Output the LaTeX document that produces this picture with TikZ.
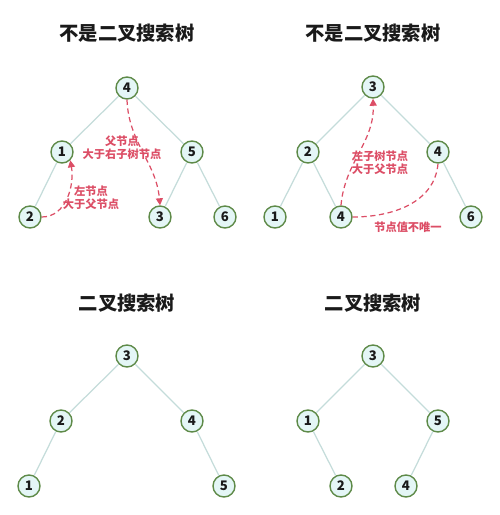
\documentclass[tikz,border=0pt]{standalone}
\usepackage{fontspec}
\setmainfont{Noto Sans CJK SC}
\usepackage{tikz}
\usetikzlibrary{arrows.meta, positioning}
\definecolor{NodeGreen}{HTML}{5E8A48}
\definecolor{NodeFill}{HTML}{E4F6F6}
\definecolor{EdgeGray}{HTML}{C4DCDA}
\definecolor{NoteRed}{HTML}{DC4E66}
\definecolor{TitleInk}{HTML}{1A1A1A}

\tikzset{
  keynode/.style={circle, draw=NodeGreen, fill=NodeFill, line width=0.8pt,
    minimum size=0.44cm, inner sep=0pt, font=\fontsize{7.5}{8}\selectfont\bfseries, text=TitleInk},
  branch/.style={draw=EdgeGray, line width=0.7pt},
  heading/.style={font=\fontsize{11}{12}\selectfont\bfseries, text=TitleInk},
  note/.style={font=\fontsize{6.4}{7.4}\selectfont\bfseries, text=NoteRed, align=center},
  hint/.style={draw=NoteRed, dashed, dash pattern=on 3pt off 2pt, line width=0.7pt},
}

\begin{document}
\begin{tikzpicture}[x=0.02cm, y=-0.02cm]
  \useasboundingbox (0,0) rectangle (500,515);

  % Top left: not a BST
  \node[heading] (t1) at (127,33) {不是二叉搜索树};
  \node[keynode] (a4) at (127,88) {4};
  \node[keynode] (a1) at (62,152) {1};
  \node[keynode] (a5) at (192,152) {5};
  \node[keynode] (a2) at (30,217) {2};
  \node[keynode] (a3) at (160,217) {3};
  \node[keynode] (a6) at (225,217) {6};
  \draw[branch] (a4) -- (a1);
  \draw[branch] (a4) -- (a5);
  \draw[branch] (a1) -- (a2);
  \draw[branch] (a5) -- (a3);
  \draw[branch] (a5) -- (a6);
  \draw[hint, -{Triangle[length=4pt, width=4pt]}] (a4.south) to[out=-88, in=95] (a3.north);
  \draw[hint, -{Triangle[length=4pt, width=4pt]}] (a2.east) to[out=0, in=-80] (a1.south east);
  \node[note] (n1) at (122,148) {父节点\\大于右子树节点};
  \node[note] (n2) at (91,198) {左节点\\大于父节点};

  % Top right: not a BST
  \node[heading] (t2) at (373,33) {不是二叉搜索树};
  \node[keynode] (b3) at (373,87) {3};
  \node[keynode] (b2) at (308,152) {2};
  \node[keynode] (b4) at (438,152) {4};
  \node[keynode] (b1) at (275,217) {1};
  \node[keynode] (b4x) at (341,217) {4};
  \node[keynode] (b6) at (471,217) {6};
  \draw[branch] (b3) -- (b2);
  \draw[branch] (b3) -- (b4);
  \draw[branch] (b2) -- (b1);
  \draw[branch] (b2) -- (b4x);
  \draw[branch] (b4) -- (b6);
  \draw[hint, -{Triangle[length=4pt, width=4pt]}] (b4x.north) to[out=85, in=-88] (b3.south);
  \draw[hint] (b4x.east) to[out=0, in=-95] (b4.south);
  \node[note] (n3) at (380,163) {左子树节点\\大于父节点};
  \node[note] (n4) at (408,227) {节点值不唯一};

  % Bottom left: BST
  \node[heading] (t3) at (127,303) {二叉搜索树};
  \node[keynode] (c3) at (127,356) {3};
  \node[keynode] (c2) at (61,421) {2};
  \node[keynode] (c4) at (192,421) {4};
  \node[keynode] (c1) at (29,486) {1};
  \node[keynode] (c5) at (224,486) {5};
  \draw[branch] (c3) -- (c2);
  \draw[branch] (c3) -- (c4);
  \draw[branch] (c2) -- (c1);
  \draw[branch] (c4) -- (c5);

  % Bottom right: BST
  \node[heading] (t4) at (373,303) {二叉搜索树};
  \node[keynode] (d3) at (373,356) {3};
  \node[keynode] (d1) at (308,421) {1};
  \node[keynode] (d5) at (438,421) {5};
  \node[keynode] (d2) at (341,486) {2};
  \node[keynode] (d4) at (406,486) {4};
  \draw[branch] (d3) -- (d1);
  \draw[branch] (d3) -- (d5);
  \draw[branch] (d1) -- (d2);
  \draw[branch] (d5) -- (d4);
\end{tikzpicture}
\end{document}
